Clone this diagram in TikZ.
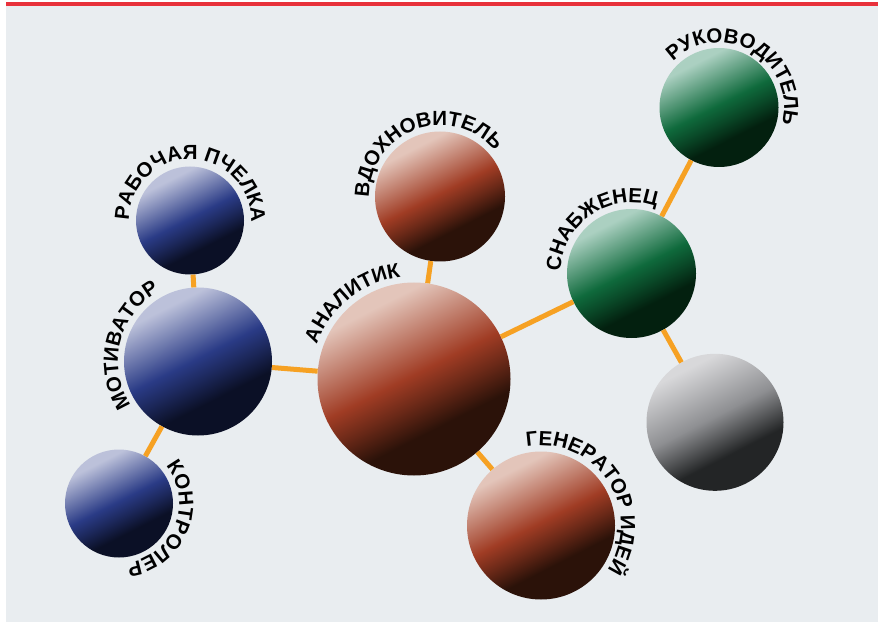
\documentclass[tikz,border=0pt]{standalone}
\usepackage{fontspec}
\setmainfont{Liberation Sans}
\usetikzlibrary{decorations.text}

\definecolor{panelgray}{HTML}{E9EDF0}
\definecolor{toprule}{HTML}{E8313B}
\definecolor{linkorange}{HTML}{F6A123}

% sphere colours: dark, mid, light
\definecolor{bluedark}{HTML}{0B1026}
\definecolor{bluemid}{HTML}{2A3B86}
\definecolor{bluelight}{HTML}{BCC1DA}
\definecolor{browndark}{HTML}{2B1209}
\definecolor{brownmid}{HTML}{A03C24}
\definecolor{brownlight}{HTML}{E3C5BA}
\definecolor{greendark}{HTML}{03200F}
\definecolor{greenmid}{HTML}{0F6A3C}
\definecolor{greenlight}{HTML}{ABD0C1}
\definecolor{greydark}{HTML}{232526}
\definecolor{greymid}{HTML}{8E8F92}
\definecolor{greylight}{HTML}{D8D8DA}

\pgfdeclareverticalshading{blueball}{100bp}{color(0bp)=(bluedark); color(36bp)=(bluedark); color(44bp)=(bluedark!45!bluemid); color(51bp)=(bluemid); color(60bp)=(bluemid!55!bluelight); color(71bp)=(bluelight); color(100bp)=(bluelight)}
\pgfdeclareverticalshading{brownball}{100bp}{color(0bp)=(browndark); color(36bp)=(browndark); color(44bp)=(browndark!45!brownmid); color(51bp)=(brownmid); color(60bp)=(brownmid!55!brownlight); color(71bp)=(brownlight); color(100bp)=(brownlight)}
\pgfdeclareverticalshading{greenball}{100bp}{color(0bp)=(greendark); color(36bp)=(greendark); color(44bp)=(greendark!45!greenmid); color(51bp)=(greenmid); color(60bp)=(greenmid!55!greenlight); color(71bp)=(greenlight); color(100bp)=(greenlight)}
\pgfdeclareverticalshading{greyball}{100bp}{color(0bp)=(greydark); color(37bp)=(greydark); color(52bp)=(greymid); color(72bp)=(greylight); color(100bp)=(greylight)}

\tikzset{
  ball/.style={circle, inner sep=0pt, minimum size=#1, shading angle=27},
  link/.style={draw=linkorange, line width=5pt},
  ringlabel/.style={decorate, decoration={text along path, text align=center,
      text={|\fontsize{20.5}{22}\selectfont\bfseries|#1}}}
}

% text on an arc round a ball: node, radius, middle angle, text
\newcommand{\ringtext}[4]{\path[ringlabel={#4}] (#1.center) ++(#3+150:#2)
  arc[start angle=#3+150, end angle=#3-150, radius=#2];}

\begin{document}
\begin{tikzpicture}[x=1pt, y=1pt]
    \useasboundingbox (0,0) rectangle (878,622);
    \fill[white] (0,0) rectangle (878,622);
    \fill[panelgray] (6,0) rectangle (878,616);
    \fill[toprule] (6,616) rectangle (878,619.5);

    % balls
    \node[ball=108pt, shading=blueball] (pchela) at (190,401.5) {};
    \node[ball=148pt, shading=blueball] (motiv) at (198,260.5) {};
    \node[ball=108pt, shading=blueball] (kontr) at (119,118.5) {};
    \node[ball=130pt, shading=brownball] (vdohn) at (440,425.5) {};
    \node[ball=193pt, shading=brownball] (analit) at (414,243) {};
    \node[ball=148pt, shading=brownball] (gen) at (541,96.5) {};
    \node[ball=129pt, shading=greenball] (snab) at (631.5,348.5) {};
    \node[ball=119pt, shading=greenball] (ruk) at (719,514.5) {};
    \node[ball=137pt, shading=greyball] (grey) at (715,199.7) {};

    % links
    \draw[link] (pchela) -- (motiv);
    \draw[link] (motiv) -- (kontr);
    \draw[link] (motiv) -- (analit);
    \draw[link] (analit) -- (vdohn);
    \draw[link] (analit) -- (gen);
    \draw[link] (analit) -- (snab);
    \draw[link] (snab) -- (ruk);
    \draw[link] (snab) -- (grey);

    % names
    \ringtext{pchela}{61}{89}{РАБОЧАЯ ПЧЕЛКА}
    \ringtext{motiv}{80}{166}{МОТИВАТОР}
    \ringtext{kontr}{60}{-22}{КОНТРОЛЕР}
    \ringtext{vdohn}{71}{110}{ВДОХНОВИТЕЛЬ}
    \ringtext{analit}{103}{129}{АНАЛИТИК}
    \ringtext{gen}{80}{33}{ГЕНЕРАТОР ИДЕЙ}
    \ringtext{snab}{71}{124}{СНАБЖЕНЕЦ}
    \ringtext{ruk}{65}{60}{РУКОВОДИТЕЛЬ}
\end{tikzpicture}
\end{document}
